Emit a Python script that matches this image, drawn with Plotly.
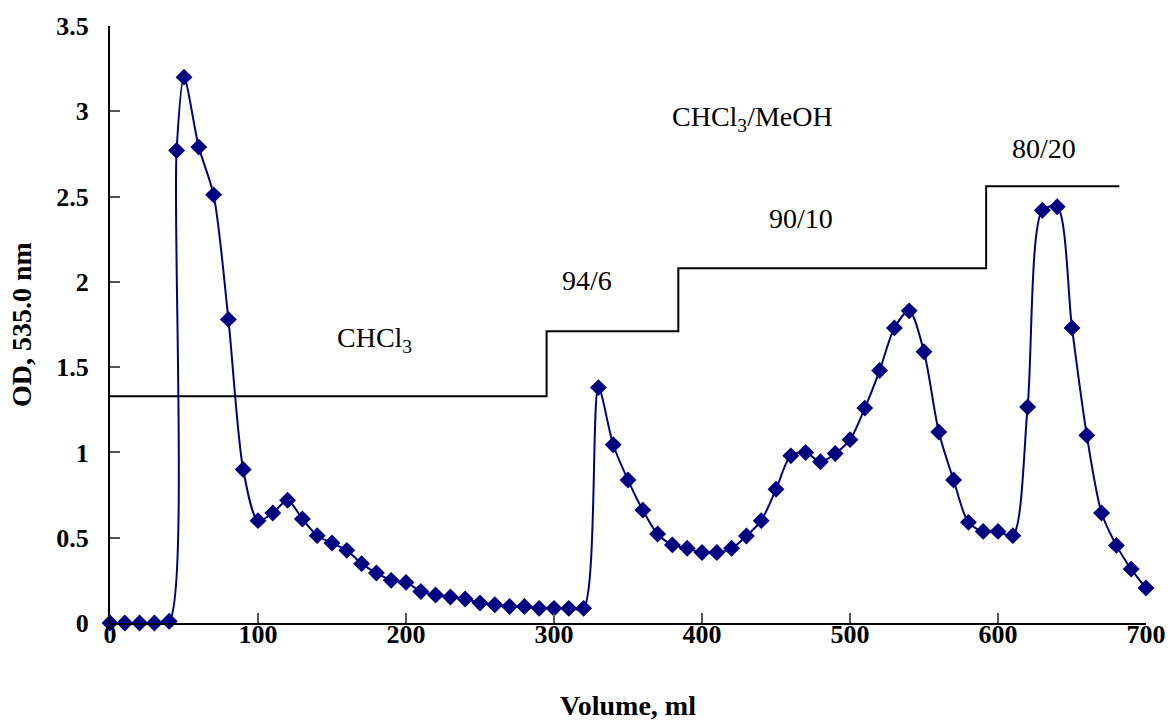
import plotly.graph_objects as go

# Elution profile (Volume, ml vs OD 535 nm)
volume = [0, 10, 20, 30, 40, 45, 50, 60, 70, 80, 90, 100, 110, 120, 130, 140, 150, 160,
          170, 180, 190, 200, 210, 220, 230, 240, 250, 260, 270, 280, 290, 300, 310, 320,
          330, 340, 350, 360, 370, 380, 390, 400, 410, 420, 430, 440, 450, 460, 470, 480,
          490, 500, 510, 520, 530, 540, 550, 560, 570, 580, 590, 600, 610, 620, 630, 640,
          650, 660, 670, 680, 690, 700]
od = [0.0, 0.0, 0.0, 0.0, 0.01, 2.77, 3.2, 2.79, 2.51, 1.78, 0.9, 0.6, 0.645, 0.72, 0.61,
      0.512, 0.469, 0.426, 0.348, 0.293, 0.25, 0.238, 0.185, 0.164, 0.152, 0.141, 0.117,
      0.107, 0.097, 0.097, 0.086, 0.086, 0.086, 0.086,
      1.38, 1.045, 0.838, 0.662, 0.522, 0.458, 0.438, 0.413, 0.413, 0.438, 0.51, 0.60,
      0.784, 0.98, 1.0, 0.945, 0.994, 1.075, 1.26, 1.48, 1.73, 1.83, 1.59, 1.12, 0.838,
      0.59, 0.537, 0.537, 0.512, 1.266, 2.42, 2.44, 1.73, 1.10, 0.645, 0.455, 0.316, 0.205]

# Solvent gradient step (CHCl3/MeOH)
step_x = [0, 295, 384, 592, 682]
step_y = [1.33, 1.71, 2.08, 2.56, 2.56]

# Labels for the gradient
label_text = ["CHCl<sub>3</sub>", "94/6", "90/10", "80/20", "CHCl<sub>3</sub>/MeOH"]
label_x = [179, 322, 467, 631, 434]
label_y = [1.66, 2.01, 2.37, 2.78, 2.96]

x_ticks = [0, 100, 200, 300, 400, 500, 600, 700]
y_ticks = [0, 0.5, 1, 1.5, 2, 2.5, 3, 3.5]
y_tick_text = ["0", "0.5", "1", "1.5", "2", "2.5", "3", "3.5"]

SERIF = "Liberation Serif, Times New Roman, serif"

fig = go.Figure()
fig.add_trace(go.Scatter(x=step_x, y=step_y, mode="lines",
                         line=dict(color="black", width=2, shape="hv"),
                         hoverinfo="skip", showlegend=False))
fig.add_trace(go.Scatter(x=volume, y=od, mode="lines+markers",
                         line=dict(color="#000080", width=2, shape="spline", smoothing=0.8),
                         marker=dict(symbol="diamond", size=13, color="#000080"),
                         cliponaxis=False, showlegend=False))

for t, xx, yy in zip(label_text, label_x, label_y):
    fig.add_annotation(x=xx, y=yy, text=t, showarrow=False,
                       font=dict(family=SERIF, size=28, color="black"))

fig.update_layout(
    width=1170, height=721,
    margin=dict(l=110, r=24, t=26, b=98),
    paper_bgcolor="white", plot_bgcolor="white",
    font=dict(family=SERIF, color="black"),
)
fig.update_xaxes(range=[0, 700], tickvals=x_ticks, ticks="inside", ticklen=10,
                 tickcolor="#555", tickwidth=2, showline=True, linecolor="black", linewidth=2,
                 showgrid=False, zeroline=False, automargin=False,
                 tickfont=dict(family=SERIF, size=26, color="black", weight="bold"),
                 ticklabelstandoff=-13,
                 title=dict(text="<b>Volume, ml</b>", font=dict(family=SERIF, size=28), standoff=49))
fig.update_yaxes(range=[0, 3.5], tickvals=y_ticks, ticktext=y_tick_text, ticks="inside",
                 ticklen=10, tickcolor="#555", tickwidth=2, showline=True, linecolor="black",
                 linewidth=2, showgrid=False, zeroline=False, automargin=False,
                 tickfont=dict(family=SERIF, size=26, color="black", weight="bold"),
                 ticklabelstandoff=14,
                 title=dict(text="<b>OD, 535.0 nm</b>", font=dict(family=SERIF, size=28), standoff=16))

fig.write_html("out.html")
